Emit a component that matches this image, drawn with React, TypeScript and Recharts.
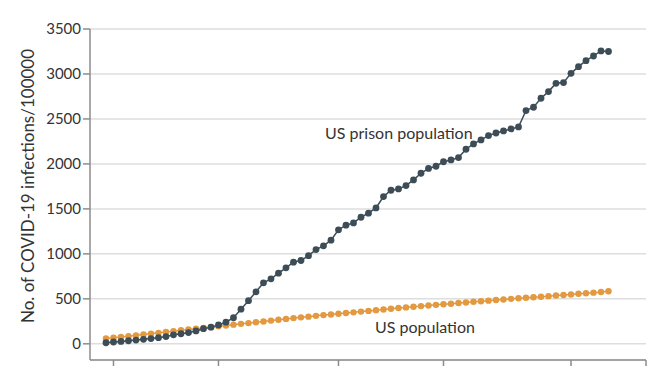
import React from "react";
import { LineChart, Line, XAxis, YAxis, CartesianGrid } from "recharts";

// day index 0 = first reported day, one point per day
const days = Array.from({ length: 68 }, (_, i) => i);

const prison = [
  12, 20, 27, 34, 42, 50, 58, 68, 80, 100,
  112, 125, 143, 168, 185, 210, 240, 290, 385, 480,
  578, 678, 722, 785, 845, 908, 926, 980, 1048, 1089,
  1152, 1267, 1319, 1344, 1407, 1452, 1511, 1637, 1707, 1722,
  1759, 1822, 1896, 1950, 1974, 2024, 2044, 2070, 2163, 2222,
  2267, 2315, 2344, 2367, 2389, 2411, 2593, 2630, 2730, 2804,
  2896, 2904, 3007, 3081, 3148, 3200, 3256, 3250,
];

const usPop = [
  60, 68, 76, 85, 94, 103, 112, 122, 131, 141,
  151, 160, 168, 176, 185, 194, 203, 213, 222, 230,
  239, 248, 258, 267, 277, 286, 294, 302, 311, 319,
  326, 334, 342, 350, 358, 366, 374, 382, 390, 398,
  405, 412, 419, 426, 433, 439, 446, 453, 460, 467,
  473, 480, 487, 493, 500, 506, 512, 518, 524, 530,
  537, 543, 549, 556, 562, 569, 576, 585,
];

const yTicks = [0, 500, 1000, 1500, 2000, 2500, 3000, 3500];
const xTicks = [1, 15, 31, 45, 62, 72];

const data = days.map((d, i) => ({ day: d, prison: prison[i], us: usPop[i] }));

const DARK = "#3d4d57";
const ORANGE = "#e2993f";
const AXIS = "#8c8c8c";
const FONT = "Lato, 'Noto Sans', sans-serif";

const YLabel = () => (
  <text
    x={27}
    y={186}
    transform="rotate(-90 27 186)"
    textAnchor="middle"
    dominantBaseline="central"
    fill="#333"
    fontSize={17}
    fontFamily={FONT}
  >
    No. of COVID-19 infections/100000
  </text>
);

export default function App() {
  return (
    <div style={{ position: "absolute", left: 0, top: 0, width: 672, height: 372, background: "#fff" }}>
      <LineChart width={672} height={372} data={data} margin={{ top: 29, right: 26, left: 0, bottom: 0 }}>
        <CartesianGrid vertical={false} stroke="#dedede" strokeWidth={1.5} />
        <XAxis
          dataKey="day"
          type="number"
          domain={[-2.13, 72]}
          ticks={xTicks}
          interval={0}
          allowDataOverflow
          height={12}
          tickFormatter={() => ""}
          tickSize={6}
          axisLine={{ stroke: AXIS, strokeWidth: 1.5 }}
          tickLine={{ stroke: AXIS, strokeWidth: 1.5 }}
        />
        <YAxis
          width={90}
          domain={[-180, 3500]}
          ticks={yTicks}
          interval={0}
          allowDataOverflow
          tickSize={7}
          tickMargin={2}
          tick={{ fill: "#333", fontSize: 15, fontFamily: FONT }}
          axisLine={{ stroke: AXIS, strokeWidth: 1.5 }}
          tickLine={{ stroke: AXIS, strokeWidth: 1.5 }}
          label={<YLabel />}
        />
        <Line
          dataKey="us"
          stroke={ORANGE}
          strokeWidth={1.5}
          dot={{ r: 3.2, fill: ORANGE, stroke: "none" }}
          isAnimationActive={false}
        />
        <Line
          dataKey="prison"
          stroke={DARK}
          strokeWidth={1.5}
          dot={{ r: 3.4, fill: DARK, stroke: "none" }}
          isAnimationActive={false}
        />
      </LineChart>
      <svg width={672} height={372} style={{ position: "absolute", left: 0, top: 0, pointerEvents: "none" }}>
        <text x={325} y={139} fill="#333" fontSize={16} fontFamily={FONT}>
          US prison population
        </text>
        <text x={375} y={333} fill="#333" fontSize={16} fontFamily={FONT}>
          US population
        </text>
      </svg>
    </div>
  );
}
